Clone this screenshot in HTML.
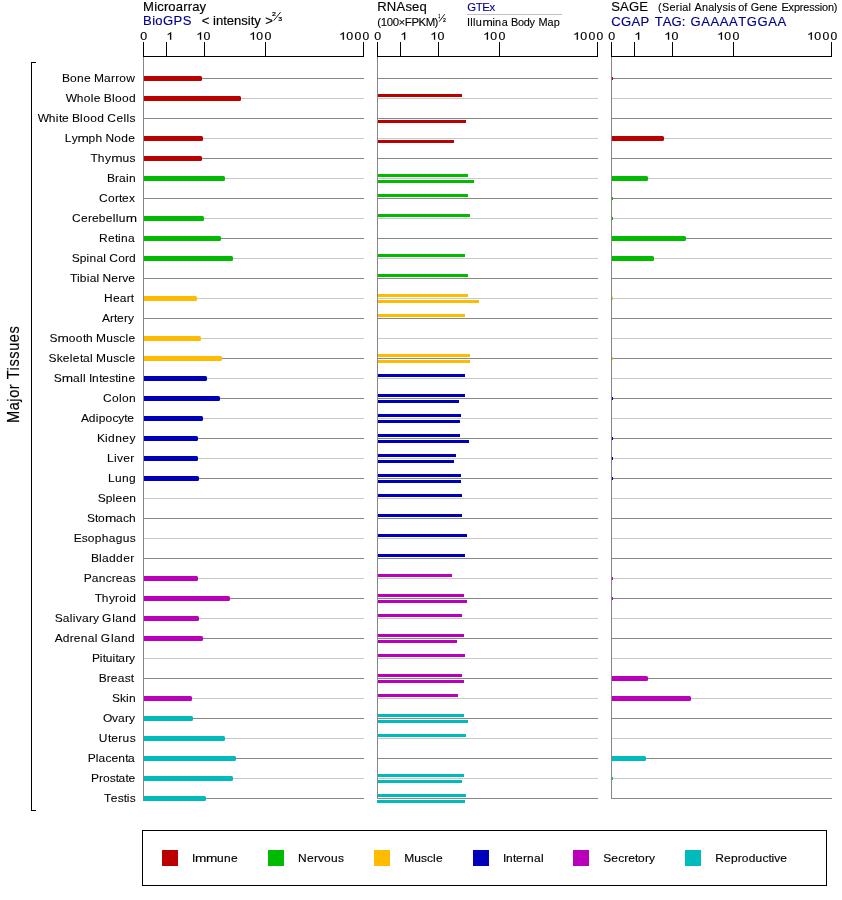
<!DOCTYPE html>
<html><head><meta charset="utf-8"><title>Expression chart</title>
<style>html,body{margin:0;padding:0;background:#fff;}svg{display:block;will-change:transform;font-family:"Liberation Sans",sans-serif;}text{font-family:"Liberation Sans",sans-serif;stroke-width:0.15px;paint-order:stroke;}text.tl{stroke-width:0.08px;}text.fr{stroke-width:0.25px;}text.sm{stroke-width:0.1px;}</style></head><body>
<svg width="842" height="900" viewBox="0 0 842 900">
<g shape-rendering="crispEdges">
<rect x="143" y="78" width="221" height="1" fill="#888888" />
<rect x="143" y="98" width="221" height="1" fill="#c8c8c8" />
<rect x="143" y="118" width="221" height="1" fill="#888888" />
<rect x="143" y="138" width="221" height="1" fill="#c8c8c8" />
<rect x="143" y="158" width="221" height="1" fill="#888888" />
<rect x="143" y="178" width="221" height="1" fill="#c8c8c8" />
<rect x="143" y="198" width="221" height="1" fill="#888888" />
<rect x="143" y="218" width="221" height="1" fill="#c8c8c8" />
<rect x="143" y="238" width="221" height="1" fill="#888888" />
<rect x="143" y="258" width="221" height="1" fill="#c8c8c8" />
<rect x="143" y="278" width="221" height="1" fill="#888888" />
<rect x="143" y="298" width="221" height="1" fill="#c8c8c8" />
<rect x="143" y="318" width="221" height="1" fill="#888888" />
<rect x="143" y="338" width="221" height="1" fill="#c8c8c8" />
<rect x="143" y="358" width="221" height="1" fill="#888888" />
<rect x="143" y="378" width="221" height="1" fill="#c8c8c8" />
<rect x="143" y="398" width="221" height="1" fill="#888888" />
<rect x="143" y="418" width="221" height="1" fill="#c8c8c8" />
<rect x="143" y="438" width="221" height="1" fill="#888888" />
<rect x="143" y="458" width="221" height="1" fill="#c8c8c8" />
<rect x="143" y="478" width="221" height="1" fill="#888888" />
<rect x="143" y="498" width="221" height="1" fill="#c8c8c8" />
<rect x="143" y="518" width="221" height="1" fill="#888888" />
<rect x="143" y="538" width="221" height="1" fill="#c8c8c8" />
<rect x="143" y="558" width="221" height="1" fill="#888888" />
<rect x="143" y="578" width="221" height="1" fill="#c8c8c8" />
<rect x="143" y="598" width="221" height="1" fill="#888888" />
<rect x="143" y="618" width="221" height="1" fill="#c8c8c8" />
<rect x="143" y="638" width="221" height="1" fill="#888888" />
<rect x="143" y="658" width="221" height="1" fill="#c8c8c8" />
<rect x="143" y="678" width="221" height="1" fill="#888888" />
<rect x="143" y="698" width="221" height="1" fill="#c8c8c8" />
<rect x="143" y="718" width="221" height="1" fill="#888888" />
<rect x="143" y="738" width="221" height="1" fill="#c8c8c8" />
<rect x="143" y="758" width="221" height="1" fill="#888888" />
<rect x="143" y="778" width="221" height="1" fill="#c8c8c8" />
<rect x="143" y="798" width="221" height="1" fill="#888888" />
<rect x="377" y="78" width="221" height="1" fill="#888888" />
<rect x="377" y="98" width="221" height="1" fill="#c8c8c8" />
<rect x="377" y="118" width="221" height="1" fill="#888888" />
<rect x="377" y="138" width="221" height="1" fill="#c8c8c8" />
<rect x="377" y="158" width="221" height="1" fill="#888888" />
<rect x="377" y="178" width="221" height="1" fill="#c8c8c8" />
<rect x="377" y="198" width="221" height="1" fill="#888888" />
<rect x="377" y="218" width="221" height="1" fill="#c8c8c8" />
<rect x="377" y="238" width="221" height="1" fill="#888888" />
<rect x="377" y="258" width="221" height="1" fill="#c8c8c8" />
<rect x="377" y="278" width="221" height="1" fill="#888888" />
<rect x="377" y="298" width="221" height="1" fill="#c8c8c8" />
<rect x="377" y="318" width="221" height="1" fill="#888888" />
<rect x="377" y="338" width="221" height="1" fill="#c8c8c8" />
<rect x="377" y="358" width="221" height="1" fill="#888888" />
<rect x="377" y="378" width="221" height="1" fill="#c8c8c8" />
<rect x="377" y="398" width="221" height="1" fill="#888888" />
<rect x="377" y="418" width="221" height="1" fill="#c8c8c8" />
<rect x="377" y="438" width="221" height="1" fill="#888888" />
<rect x="377" y="458" width="221" height="1" fill="#c8c8c8" />
<rect x="377" y="478" width="221" height="1" fill="#888888" />
<rect x="377" y="498" width="221" height="1" fill="#c8c8c8" />
<rect x="377" y="518" width="221" height="1" fill="#888888" />
<rect x="377" y="538" width="221" height="1" fill="#c8c8c8" />
<rect x="377" y="558" width="221" height="1" fill="#888888" />
<rect x="377" y="578" width="221" height="1" fill="#c8c8c8" />
<rect x="377" y="598" width="221" height="1" fill="#888888" />
<rect x="377" y="618" width="221" height="1" fill="#c8c8c8" />
<rect x="377" y="638" width="221" height="1" fill="#888888" />
<rect x="377" y="658" width="221" height="1" fill="#c8c8c8" />
<rect x="377" y="678" width="221" height="1" fill="#888888" />
<rect x="377" y="698" width="221" height="1" fill="#c8c8c8" />
<rect x="377" y="718" width="221" height="1" fill="#888888" />
<rect x="377" y="738" width="221" height="1" fill="#c8c8c8" />
<rect x="377" y="758" width="221" height="1" fill="#888888" />
<rect x="377" y="778" width="221" height="1" fill="#c8c8c8" />
<rect x="377" y="798" width="221" height="1" fill="#888888" />
<rect x="611" y="78" width="221" height="1" fill="#888888" />
<rect x="611" y="98" width="221" height="1" fill="#c8c8c8" />
<rect x="611" y="118" width="221" height="1" fill="#888888" />
<rect x="611" y="138" width="221" height="1" fill="#c8c8c8" />
<rect x="611" y="158" width="221" height="1" fill="#888888" />
<rect x="611" y="178" width="221" height="1" fill="#c8c8c8" />
<rect x="611" y="198" width="221" height="1" fill="#888888" />
<rect x="611" y="218" width="221" height="1" fill="#c8c8c8" />
<rect x="611" y="238" width="221" height="1" fill="#888888" />
<rect x="611" y="258" width="221" height="1" fill="#c8c8c8" />
<rect x="611" y="278" width="221" height="1" fill="#888888" />
<rect x="611" y="298" width="221" height="1" fill="#c8c8c8" />
<rect x="611" y="318" width="221" height="1" fill="#888888" />
<rect x="611" y="338" width="221" height="1" fill="#c8c8c8" />
<rect x="611" y="358" width="221" height="1" fill="#888888" />
<rect x="611" y="378" width="221" height="1" fill="#c8c8c8" />
<rect x="611" y="398" width="221" height="1" fill="#888888" />
<rect x="611" y="418" width="221" height="1" fill="#c8c8c8" />
<rect x="611" y="438" width="221" height="1" fill="#888888" />
<rect x="611" y="458" width="221" height="1" fill="#c8c8c8" />
<rect x="611" y="478" width="221" height="1" fill="#888888" />
<rect x="611" y="498" width="221" height="1" fill="#c8c8c8" />
<rect x="611" y="518" width="221" height="1" fill="#888888" />
<rect x="611" y="538" width="221" height="1" fill="#c8c8c8" />
<rect x="611" y="558" width="221" height="1" fill="#888888" />
<rect x="611" y="578" width="221" height="1" fill="#c8c8c8" />
<rect x="611" y="598" width="221" height="1" fill="#888888" />
<rect x="611" y="618" width="221" height="1" fill="#c8c8c8" />
<rect x="611" y="638" width="221" height="1" fill="#888888" />
<rect x="611" y="658" width="221" height="1" fill="#c8c8c8" />
<rect x="611" y="678" width="221" height="1" fill="#888888" />
<rect x="611" y="698" width="221" height="1" fill="#c8c8c8" />
<rect x="611" y="718" width="221" height="1" fill="#888888" />
<rect x="611" y="738" width="221" height="1" fill="#c8c8c8" />
<rect x="611" y="758" width="221" height="1" fill="#888888" />
<rect x="611" y="778" width="221" height="1" fill="#c8c8c8" />
<rect x="611" y="798" width="221" height="1" fill="#888888" />
</g>
<path d="M143 76H200.5Q202 76 202 77.5V79.5Q202 81 200.5 81H143Z" fill="#bb0000"/>
<path d="M143 96H239.5Q241 96 241 97.5V99.5Q241 101 239.5 101H143Z" fill="#bb0000"/>
<path d="M143 136H201.5Q203 136 203 137.5V139.5Q203 141 201.5 141H143Z" fill="#bb0000"/>
<path d="M143 156H200.5Q202 156 202 157.5V159.5Q202 161 200.5 161H143Z" fill="#bb0000"/>
<path d="M143 176H223.5Q225 176 225 177.5V179.5Q225 181 223.5 181H143Z" fill="#00bb00"/>
<path d="M143 216H202.5Q204 216 204 217.5V219.5Q204 221 202.5 221H143Z" fill="#00bb00"/>
<path d="M143 236H219.5Q221 236 221 237.5V239.5Q221 241 219.5 241H143Z" fill="#00bb00"/>
<path d="M143 256H231.5Q233 256 233 257.5V259.5Q233 261 231.5 261H143Z" fill="#00bb00"/>
<path d="M143 296H195.5Q197 296 197 297.5V299.5Q197 301 195.5 301H143Z" fill="#ffbb00"/>
<path d="M143 336H199.5Q201 336 201 337.5V339.5Q201 341 199.5 341H143Z" fill="#ffbb00"/>
<path d="M143 356H220.5Q222 356 222 357.5V359.5Q222 361 220.5 361H143Z" fill="#ffbb00"/>
<path d="M143 376H205.5Q207 376 207 377.5V379.5Q207 381 205.5 381H143Z" fill="#0000bb"/>
<path d="M143 396H218.5Q220 396 220 397.5V399.5Q220 401 218.5 401H143Z" fill="#0000bb"/>
<path d="M143 416H201.5Q203 416 203 417.5V419.5Q203 421 201.5 421H143Z" fill="#0000bb"/>
<path d="M143 436H196.5Q198 436 198 437.5V439.5Q198 441 196.5 441H143Z" fill="#0000bb"/>
<path d="M143 456H196.5Q198 456 198 457.5V459.5Q198 461 196.5 461H143Z" fill="#0000bb"/>
<path d="M143 476H197.5Q199 476 199 477.5V479.5Q199 481 197.5 481H143Z" fill="#0000bb"/>
<path d="M143 576H196.5Q198 576 198 577.5V579.5Q198 581 196.5 581H143Z" fill="#bb00bb"/>
<path d="M143 596H228.5Q230 596 230 597.5V599.5Q230 601 228.5 601H143Z" fill="#bb00bb"/>
<path d="M143 616H197.5Q199 616 199 617.5V619.5Q199 621 197.5 621H143Z" fill="#bb00bb"/>
<path d="M143 636H201.5Q203 636 203 637.5V639.5Q203 641 201.5 641H143Z" fill="#bb00bb"/>
<path d="M143 696H190.5Q192 696 192 697.5V699.5Q192 701 190.5 701H143Z" fill="#bb00bb"/>
<path d="M143 716H191.5Q193 716 193 717.5V719.5Q193 721 191.5 721H143Z" fill="#00bbbb"/>
<path d="M143 736H223.5Q225 736 225 737.5V739.5Q225 741 223.5 741H143Z" fill="#00bbbb"/>
<path d="M143 756H234.5Q236 756 236 757.5V759.5Q236 761 234.5 761H143Z" fill="#00bbbb"/>
<path d="M143 776H231.5Q233 776 233 777.5V779.5Q233 781 231.5 781H143Z" fill="#00bbbb"/>
<path d="M143 796H204.5Q206 796 206 797.5V799.5Q206 801 204.5 801H143Z" fill="#00bbbb"/>
<g shape-rendering="crispEdges">
<rect x="377" y="94" width="85" height="3" fill="#bb0000" />
<rect x="377" y="120" width="89" height="3" fill="#bb0000" />
<rect x="377" y="140" width="77" height="3" fill="#bb0000" />
<rect x="377" y="174" width="91" height="3" fill="#00bb00" />
<rect x="377" y="180" width="97" height="3" fill="#00bb00" />
<rect x="377" y="194" width="91" height="3" fill="#00bb00" />
<rect x="377" y="214" width="93" height="3" fill="#00bb00" />
<rect x="377" y="254" width="88" height="3" fill="#00bb00" />
<rect x="377" y="274" width="91" height="3" fill="#00bb00" />
<rect x="377" y="294" width="91" height="3" fill="#ffbb00" />
<rect x="377" y="300" width="102" height="3" fill="#ffbb00" />
<rect x="377" y="314" width="88" height="3" fill="#ffbb00" />
<rect x="377" y="354" width="93" height="3" fill="#ffbb00" />
<rect x="377" y="360" width="93" height="3" fill="#ffbb00" />
<rect x="377" y="374" width="88" height="3" fill="#0000bb" />
<rect x="377" y="394" width="88" height="3" fill="#0000bb" />
<rect x="377" y="400" width="82" height="3" fill="#0000bb" />
<rect x="377" y="414" width="84" height="3" fill="#0000bb" />
<rect x="377" y="420" width="83" height="3" fill="#0000bb" />
<rect x="377" y="434" width="83" height="3" fill="#0000bb" />
<rect x="377" y="440" width="92" height="3" fill="#0000bb" />
<rect x="377" y="454" width="79" height="3" fill="#0000bb" />
<rect x="377" y="460" width="77" height="3" fill="#0000bb" />
<rect x="377" y="474" width="84" height="3" fill="#0000bb" />
<rect x="377" y="480" width="84" height="3" fill="#0000bb" />
<rect x="377" y="494" width="85" height="3" fill="#0000bb" />
<rect x="377" y="514" width="85" height="3" fill="#0000bb" />
<rect x="377" y="534" width="90" height="3" fill="#0000bb" />
<rect x="377" y="554" width="88" height="3" fill="#0000bb" />
<rect x="377" y="574" width="75" height="3" fill="#bb00bb" />
<rect x="377" y="594" width="87" height="3" fill="#bb00bb" />
<rect x="377" y="600" width="90" height="3" fill="#bb00bb" />
<rect x="377" y="614" width="85" height="3" fill="#bb00bb" />
<rect x="377" y="634" width="87" height="3" fill="#bb00bb" />
<rect x="377" y="640" width="80" height="3" fill="#bb00bb" />
<rect x="377" y="654" width="88" height="3" fill="#bb00bb" />
<rect x="377" y="674" width="85" height="3" fill="#bb00bb" />
<rect x="377" y="680" width="87" height="3" fill="#bb00bb" />
<rect x="377" y="694" width="81" height="3" fill="#bb00bb" />
<rect x="377" y="714" width="87" height="3" fill="#00bbbb" />
<rect x="377" y="720" width="91" height="3" fill="#00bbbb" />
<rect x="377" y="734" width="89" height="3" fill="#00bbbb" />
<rect x="377" y="774" width="87" height="3" fill="#00bbbb" />
<rect x="377" y="780" width="85" height="3" fill="#00bbbb" />
<rect x="377" y="794" width="89" height="3" fill="#00bbbb" />
<rect x="377" y="800" width="88" height="3" fill="#00bbbb" />
</g>
<path d="M611 136H662.5Q664 136 664 137.5V139.5Q664 141 662.5 141H611Z" fill="#bb0000"/>
<path d="M611 176H646.5Q648 176 648 177.5V179.5Q648 181 646.5 181H611Z" fill="#00bb00"/>
<path d="M611 236H684.5Q686 236 686 237.5V239.5Q686 241 684.5 241H611Z" fill="#00bb00"/>
<path d="M611 256H652.5Q654 256 654 257.5V259.5Q654 261 652.5 261H611Z" fill="#00bb00"/>
<path d="M611 676H646.5Q648 676 648 677.5V679.5Q648 681 646.5 681H611Z" fill="#bb00bb"/>
<path d="M611 696H689.5Q691 696 691 697.5V699.5Q691 701 689.5 701H611Z" fill="#bb00bb"/>
<path d="M611 756H644.5Q646 756 646 757.5V759.5Q646 761 644.5 761H611Z" fill="#00bbbb"/>
<rect x="612" y="77" width="1" height="3" fill="#bb0000"/>
<rect x="612" y="197" width="1" height="3" fill="#00bb00"/>
<rect x="612" y="217" width="1" height="3" fill="#00bb00"/>
<rect x="612" y="297" width="1" height="3" fill="#ffbb00"/>
<rect x="612" y="357" width="1" height="3" fill="#ffbb00"/>
<rect x="612" y="397" width="1" height="3" fill="#0000bb"/>
<rect x="612" y="437" width="1" height="3" fill="#0000bb"/>
<rect x="612" y="457" width="1" height="3" fill="#0000bb"/>
<rect x="612" y="477" width="1" height="3" fill="#0000bb"/>
<rect x="612" y="577" width="1" height="3" fill="#bb00bb"/>
<rect x="612" y="597" width="1" height="3" fill="#bb00bb"/>
<rect x="612" y="777" width="1" height="3" fill="#00bbbb"/>
<g shape-rendering="crispEdges">
<rect x="143" y="57" width="1" height="742" fill="#868686" />
<rect x="143" y="56" width="221" height="1" fill="#000" />
<rect x="143" y="42" width="1" height="15" fill="#000" />
<rect x="166" y="42" width="1" height="15" fill="#000" />
<rect x="204" y="42" width="1" height="15" fill="#000" />
<rect x="265" y="42" width="1" height="15" fill="#000" />
<rect x="363" y="42" width="1" height="15" fill="#000" />
<rect x="377" y="57" width="1" height="742" fill="#868686" />
<rect x="377" y="56" width="221" height="1" fill="#000" />
<rect x="377" y="42" width="1" height="15" fill="#000" />
<rect x="400" y="42" width="1" height="15" fill="#000" />
<rect x="438" y="42" width="1" height="15" fill="#000" />
<rect x="499" y="42" width="1" height="15" fill="#000" />
<rect x="597" y="42" width="1" height="15" fill="#000" />
<rect x="611" y="57" width="1" height="742" fill="#868686" />
<rect x="611" y="56" width="221" height="1" fill="#000" />
<rect x="611" y="42" width="1" height="15" fill="#000" />
<rect x="634" y="42" width="1" height="15" fill="#000" />
<rect x="672" y="42" width="1" height="15" fill="#000" />
<rect x="733" y="42" width="1" height="15" fill="#000" />
<rect x="831" y="42" width="1" height="15" fill="#000" />
<rect x="31" y="62" width="1" height="749" fill="#000" />
<rect x="31" y="62" width="5" height="1" fill="#000" />
<rect x="31" y="810" width="5" height="1" fill="#000" />
<rect x="142" y="830" width="685" height="1" fill="#000" />
<rect x="142" y="885" width="685" height="1" fill="#000" />
<rect x="142" y="830" width="1" height="56" fill="#000" />
<rect x="826" y="830" width="1" height="56" fill="#000" />
<rect x="162" y="850" width="16" height="16" fill="#bb0000" />
<rect x="268" y="850" width="16" height="16" fill="#00bb00" />
<rect x="374" y="850" width="16" height="16" fill="#ffbb00" />
<rect x="473" y="850" width="16" height="16" fill="#0000bb" />
<rect x="573" y="850" width="16" height="16" fill="#bb00bb" />
<rect x="685" y="850" width="16" height="16" fill="#00bbbb" />
<rect x="467" y="14" width="95" height="1" fill="#c0c0c0" />
</g>
<text transform="translate(140.25,39.7) scale(1.1840,1)" font-size="10.5" fill="#000" stroke="#000">0</text>
<path transform="translate(166.31,39.7) scale(0.006409,-0.005127)" d="M763 0H583V1147Q430 1010 223 930V1104Q520 1250 644 1472H763Z" fill="#000" stroke="#000" stroke-width="30"/>
<path transform="translate(196.21,39.7) scale(0.006409,-0.005127)" d="M763 0H583V1147Q430 1010 223 930V1104Q520 1250 644 1472H763Z" fill="#000" stroke="#000" stroke-width="30"/>
<text transform="translate(203.45,39.7) scale(1.1840,1)" font-size="10.5" fill="#000" stroke="#000">0</text>
<path transform="translate(249.11,39.7) scale(0.006409,-0.005127)" d="M763 0H583V1147Q430 1010 223 930V1104Q520 1250 644 1472H763Z" fill="#000" stroke="#000" stroke-width="30"/>
<text transform="translate(256.35,39.7) scale(1.1669,1)" font-size="10.5" fill="#000" stroke="#000">0</text>
<text transform="translate(264.45,39.7) scale(1.1840,1)" font-size="10.5" fill="#000" stroke="#000">0</text>
<path transform="translate(339.01,39.7) scale(0.006409,-0.005127)" d="M763 0H583V1147Q430 1010 223 930V1104Q520 1250 644 1472H763Z" fill="#000" stroke="#000" stroke-width="30"/>
<text transform="translate(346.35,39.7) scale(1.1840,1)" font-size="10.5" fill="#000" stroke="#000">0</text>
<text transform="translate(354.55,39.7) scale(1.1669,1)" font-size="10.5" fill="#000" stroke="#000">0</text>
<text transform="translate(362.55,39.7) scale(1.1497,1)" font-size="10.5" fill="#000" stroke="#000">0</text>
<text transform="translate(374.25,39.7) scale(1.1840,1)" font-size="10.5" fill="#000" stroke="#000">0</text>
<path transform="translate(400.31,39.7) scale(0.006409,-0.005127)" d="M763 0H583V1147Q430 1010 223 930V1104Q520 1250 644 1472H763Z" fill="#000" stroke="#000" stroke-width="30"/>
<path transform="translate(430.21,39.7) scale(0.006409,-0.005127)" d="M763 0H583V1147Q430 1010 223 930V1104Q520 1250 644 1472H763Z" fill="#000" stroke="#000" stroke-width="30"/>
<text transform="translate(437.45,39.7) scale(1.1840,1)" font-size="10.5" fill="#000" stroke="#000">0</text>
<path transform="translate(483.11,39.7) scale(0.006409,-0.005127)" d="M763 0H583V1147Q430 1010 223 930V1104Q520 1250 644 1472H763Z" fill="#000" stroke="#000" stroke-width="30"/>
<text transform="translate(490.35,39.7) scale(1.1669,1)" font-size="10.5" fill="#000" stroke="#000">0</text>
<text transform="translate(498.45,39.7) scale(1.1840,1)" font-size="10.5" fill="#000" stroke="#000">0</text>
<path transform="translate(573.01,39.7) scale(0.006409,-0.005127)" d="M763 0H583V1147Q430 1010 223 930V1104Q520 1250 644 1472H763Z" fill="#000" stroke="#000" stroke-width="30"/>
<text transform="translate(580.35,39.7) scale(1.1840,1)" font-size="10.5" fill="#000" stroke="#000">0</text>
<text transform="translate(588.55,39.7) scale(1.1669,1)" font-size="10.5" fill="#000" stroke="#000">0</text>
<text transform="translate(596.55,39.7) scale(1.1497,1)" font-size="10.5" fill="#000" stroke="#000">0</text>
<text transform="translate(608.25,39.7) scale(1.1840,1)" font-size="10.5" fill="#000" stroke="#000">0</text>
<path transform="translate(634.31,39.7) scale(0.006409,-0.005127)" d="M763 0H583V1147Q430 1010 223 930V1104Q520 1250 644 1472H763Z" fill="#000" stroke="#000" stroke-width="30"/>
<path transform="translate(664.21,39.7) scale(0.006409,-0.005127)" d="M763 0H583V1147Q430 1010 223 930V1104Q520 1250 644 1472H763Z" fill="#000" stroke="#000" stroke-width="30"/>
<text transform="translate(671.45,39.7) scale(1.1840,1)" font-size="10.5" fill="#000" stroke="#000">0</text>
<path transform="translate(717.11,39.7) scale(0.006409,-0.005127)" d="M763 0H583V1147Q430 1010 223 930V1104Q520 1250 644 1472H763Z" fill="#000" stroke="#000" stroke-width="30"/>
<text transform="translate(724.35,39.7) scale(1.1669,1)" font-size="10.5" fill="#000" stroke="#000">0</text>
<text transform="translate(732.45,39.7) scale(1.1840,1)" font-size="10.5" fill="#000" stroke="#000">0</text>
<path transform="translate(807.01,39.7) scale(0.006409,-0.005127)" d="M763 0H583V1147Q430 1010 223 930V1104Q520 1250 644 1472H763Z" fill="#000" stroke="#000" stroke-width="30"/>
<text transform="translate(814.35,39.7) scale(1.1840,1)" font-size="10.5" fill="#000" stroke="#000">0</text>
<text transform="translate(822.55,39.7) scale(1.1669,1)" font-size="10.5" fill="#000" stroke="#000">0</text>
<text transform="translate(830.55,39.7) scale(1.1497,1)" font-size="10.5" fill="#000" stroke="#000">0</text>
<text class="tl" transform="translate(61.90,81.7) scale(1.0900,1)" x="0.00 7.37 13.83 20.28 26.73 29.50 38.72 45.17 48.86 52.54 59.00" font-size="11" fill="#000" stroke="#000">Bone Marrow</text>
<text class="tl" transform="translate(65.70,101.7) scale(1.0900,1)" x="0.00 10.13 16.58 23.03 25.79 32.24 35.00 42.37 45.13 51.58 58.02" font-size="11" fill="#000" stroke="#000">Whole Blood</text>
<text class="tl" transform="translate(37.70,121.7) scale(1.0900,1)" x="0.00 10.19 16.68 19.46 22.24 28.72 31.50 38.92 41.69 48.18 54.67 61.15 63.93 72.27 78.76 81.54 84.32" font-size="11" fill="#000" stroke="#000">White Blood Cells</text>
<text class="tl" transform="translate(64.70,141.7) scale(1.0900,1)" x="0.00 6.38" font-size="11" fill="#000" stroke="#000">Ly</text>
<text class="tl" transform="translate(77.61,141.7) scale(1.2426,1)" x="0.00" font-size="11" fill="#000" stroke="#000">m</text>
<text class="tl" transform="translate(88.53,141.7) scale(1.0900,1)" x="0.00 6.38 12.75 15.49 23.68 30.06 36.44" font-size="11" fill="#000" stroke="#000">ph Node</text>
<text class="tl" transform="translate(90.60,161.7) scale(1.0900,1)" x="0.00 6.59 13.18" font-size="11" fill="#000" stroke="#000">Thy</text>
<text class="tl" transform="translate(111.13,161.7) scale(1.2426,1)" x="0.00" font-size="11" fill="#000" stroke="#000">m</text>
<text class="tl" transform="translate(122.42,161.7) scale(1.0900,1)" x="0.00 6.59" font-size="11" fill="#000" stroke="#000">us</text>
<text class="tl" transform="translate(107.00,181.7) scale(1.0900,1)" x="0.00 7.35 11.03 17.47 20.23" font-size="11" fill="#000" stroke="#000">Brain</text>
<text class="tl" transform="translate(99.10,201.7) scale(1.0900,1)" x="0.00 8.26 14.68 18.35 21.10 27.53" font-size="11" fill="#000" stroke="#000">Cortex</text>
<text class="tl" transform="translate(72.00,221.7) scale(1.0900,1)" x="0.00 8.21 14.60 18.25 24.64 31.03 37.42 40.16 42.89" font-size="11" fill="#000" stroke="#000">Cerebellu</text>
<text class="tl" transform="translate(125.72,221.7) scale(1.2426,1)" x="0.00" font-size="11" fill="#000" stroke="#000">m</text>
<text class="tl" transform="translate(99.10,241.7) scale(1.0900,1)" x="0.00 8.26 14.69 17.44 20.19 26.62" font-size="11" fill="#000" stroke="#000">Retina</text>
<text class="tl" transform="translate(71.80,261.7) scale(1.0900,1)" x="0.00 7.24 13.58 16.30 22.64 28.98 31.69 34.41 42.56 48.90 52.52" font-size="11" fill="#000" stroke="#000">Spinal Cord</text>
<text class="tl" transform="translate(70.00,281.7) scale(1.0900,1)" x="0.00 6.33 9.04 15.37 18.08 24.41 27.12 29.84 37.97 44.30 47.92 53.34" font-size="11" fill="#000" stroke="#000">Tibial Nerve</text>
<text class="tl" transform="translate(103.90,301.7) scale(1.0900,1)" x="0.00 8.25 14.66 21.08 24.75" font-size="11" fill="#000" stroke="#000">Heart</text>
<text class="tl" transform="translate(101.90,321.7) scale(1.0900,1)" x="0.00 7.34 11.01 13.76 20.19 23.86" font-size="11" fill="#000" stroke="#000">Artery</text>
<text class="tl" transform="translate(49.50,341.7) scale(1.0900,1)" x="0.00" font-size="11" fill="#000" stroke="#000">S</text>
<text class="tl" transform="translate(57.60,341.7) scale(1.2426,1)" x="0.00" font-size="11" fill="#000" stroke="#000">m</text>
<text class="tl" transform="translate(68.73,341.7) scale(1.0900,1)" x="0.00 6.50 13.00 15.79 22.29 25.07 34.36 40.86 46.43 52.00 54.78" font-size="11" fill="#000" stroke="#000">ooth Muscle</text>
<text class="tl" transform="translate(48.60,361.7) scale(1.0900,1)" x="0.00 7.42 12.98 19.47 22.25 28.74 31.53 38.02 40.80 43.58 52.85 59.34 64.91 70.47 73.25" font-size="11" fill="#000" stroke="#000">Skeletal Muscle</text>
<text class="tl" transform="translate(53.70,381.7) scale(1.0900,1)" x="0.00" font-size="11" fill="#000" stroke="#000">S</text>
<text class="tl" transform="translate(61.78,381.7) scale(1.2426,1)" x="0.00" font-size="11" fill="#000" stroke="#000">m</text>
<text class="tl" transform="translate(72.89,381.7) scale(1.0900,1)" x="0.00 6.49 9.27 12.05 14.83 17.61 24.09 26.87 33.36 38.92 41.70 44.48 50.97" font-size="11" fill="#000" stroke="#000">all Intestine</text>
<text class="tl" transform="translate(102.90,401.7) scale(1.0900,1)" x="0.00 8.30 14.76 17.53 23.99" font-size="11" fill="#000" stroke="#000">Colon</text>
<text class="tl" transform="translate(80.90,421.7) scale(1.0900,1)" x="0.00 7.24 13.57 16.28 22.62 28.95 34.38 39.80 42.52" font-size="11" fill="#000" stroke="#000">Adipocyte</text>
<text class="tl" transform="translate(96.90,441.7) scale(1.0900,1)" x="0.00 7.48 10.28 16.83 23.37 29.91" font-size="11" fill="#000" stroke="#000">Kidney</text>
<text class="tl" transform="translate(107.00,461.7) scale(1.0900,1)" x="0.00 6.48 9.26 14.82 21.30" font-size="11" fill="#000" stroke="#000">Liver</text>
<text class="tl" transform="translate(107.90,481.7) scale(1.0900,1)" x="0.00 6.47 12.93 19.40" font-size="11" fill="#000" stroke="#000">Lung</text>
<text class="tl" transform="translate(97.80,501.7) scale(1.0900,1)" x="0.00 7.24 13.57 16.28 22.61 28.94" font-size="11" fill="#000" stroke="#000">Spleen</text>
<text class="tl" transform="translate(86.90,521.7) scale(1.0900,1)" x="0.00 7.36 10.13" font-size="11" fill="#000" stroke="#000">Sto</text>
<text class="tl" transform="translate(104.96,521.7) scale(1.2426,1)" x="0.00" font-size="11" fill="#000" stroke="#000">m</text>
<text class="tl" transform="translate(116.00,521.7) scale(1.0900,1)" x="0.00 6.44 11.97" font-size="11" fill="#000" stroke="#000">ach</text>
<text class="tl" transform="translate(73.80,541.7) scale(1.0900,1)" x="0.00 7.33 12.82 19.23 25.64 32.06 38.47 44.88 51.29" font-size="11" fill="#000" stroke="#000">Esophagus</text>
<text class="tl" transform="translate(90.90,561.7) scale(1.0900,1)" x="0.00 7.40 10.17 16.65 23.12 29.59 36.07" font-size="11" fill="#000" stroke="#000">Bladder</text>
<text class="tl" transform="translate(83.80,581.7) scale(1.0900,1)" x="0.00 7.32 13.73 20.14 25.64 29.30 35.71 42.11" font-size="11" fill="#000" stroke="#000">Pancreas</text>
<text class="tl" transform="translate(94.70,601.7) scale(1.0900,1)" x="0.00 6.54 13.09 18.70 22.44 28.98 31.78" font-size="11" fill="#000" stroke="#000">Thyroid</text>
<text class="tl" transform="translate(54.70,621.7) scale(1.0900,1)" x="0.00 7.40 13.88 16.66 19.43 24.99 31.46 35.17 40.72 43.50 52.75 55.53 62.00 68.48" font-size="11" fill="#000" stroke="#000">Salivary Gland</text>
<text class="tl" transform="translate(54.70,641.7) scale(1.0900,1)" x="0.00 7.36 13.81 17.49 23.93 30.38 36.82 39.58 42.34 51.55 54.31 60.75 67.20" font-size="11" fill="#000" stroke="#000">Adrenal Gland</text>
<text class="tl" transform="translate(92.00,661.7) scale(1.0900,1)" x="0.00 7.17 9.85 12.54 18.81 21.50 24.19 30.46 34.04" font-size="11" fill="#000" stroke="#000">Pituitary</text>
<text class="tl" transform="translate(98.80,681.7) scale(1.0900,1)" x="0.00 7.36 11.03 17.47 23.91 29.42" font-size="11" fill="#000" stroke="#000">Breast</text>
<text class="tl" transform="translate(111.90,701.7) scale(1.0900,1)" x="0.00 7.40 12.95 15.73" font-size="11" fill="#000" stroke="#000">Skin</text>
<text class="tl" transform="translate(102.90,721.7) scale(1.0900,1)" x="0.00 8.32 13.87 20.34 24.04" font-size="11" fill="#000" stroke="#000">Ovary</text>
<text class="tl" transform="translate(98.80,741.7) scale(1.0900,1)" x="0.00 8.51 11.34 17.96 21.74 28.35" font-size="11" fill="#000" stroke="#000">Uterus</text>
<text class="tl" transform="translate(87.80,761.7) scale(1.0900,1)" x="0.00 7.22 9.92 16.24 21.65 27.97 34.28 36.99" font-size="11" fill="#000" stroke="#000">Placenta</text>
<text class="tl" transform="translate(91.10,781.7) scale(1.0900,1)" x="0.00 7.21 10.82 17.13 22.54 25.25 31.56 34.26" font-size="11" fill="#000" stroke="#000">Prostate</text>
<text class="tl" transform="translate(103.90,801.7) scale(1.0900,1)" x="0.00 6.37 12.75 18.21 20.94 23.67" font-size="11" fill="#000" stroke="#000">Testis</text>
<text transform="translate(143.10,10.6) scale(1.0900,1)" x="0.00 10.22 12.94 19.08 23.16 29.98 36.81 40.89 44.98 51.80" font-size="12" fill="#000" stroke="#000">Microarray</text>
<text transform="translate(143.10,25.3) scale(1.0900,1)" x="0.00 8.40 11.20 18.20 27.99 36.39" font-size="12" fill="#000088" stroke="#000088">BioGPS</text>
<text transform="translate(201.70,25.1) scale(1.0900,1)" x="0.00" font-size="12" fill="#000" stroke="#000">&lt;</text>
<text transform="translate(213.00,25.1) scale(1.0900,1)" x="0.00 2.65 9.30 12.62 19.26 25.91 31.88 34.53 37.85" font-size="12" fill="#000" stroke="#000">intensity</text>
<text transform="translate(265.30,25.1) scale(1.0900,1)" x="0.00" font-size="12" fill="#000" stroke="#000">&gt;</text>
<text class="fr" transform="translate(272.00,15.7) scale(1.1712,1)" font-size="6.0" fill="#000" stroke="#000">2</text>
<text class="fr" transform="translate(278.30,20.8) scale(1.1411,1)" font-size="6.0" fill="#000" stroke="#000">3</text>
<path d="M273.7 20.6L280.6 12.1" stroke="#000" stroke-width="0.9" fill="none"/>
<text transform="translate(377.20,10.6) scale(1.0900,1)" x="0.00 8.86 17.71 25.89 32.02 38.84" font-size="12" fill="#000" stroke="#000">RNAseq</text>
<text class="sm" transform="translate(377.20,25.7) scale(1.0900,1)" x="0.00 3.27 8.73 14.19 19.65 25.38 31.38 37.93 44.48 52.66" font-size="10.5" fill="#000" stroke="#000">(100×FPKM)</text>
<text class="fr" transform="translate(438.40,17.5) scale(0.5544,1)" font-size="5.2" fill="#000" stroke="#000">1</text>
<text class="fr" transform="translate(443.10,22.0) scale(1.0049,1)" font-size="5.2" fill="#000" stroke="#000">2</text>
<path d="M439.1 21.8L444.7 14.2" stroke="#000" stroke-width="0.9" fill="none"/>
<text class="sm" transform="translate(467.30,11.3) scale(1.0900,1)" x="0.00 7.73 13.81 20.44" font-size="10.5" fill="#000088" stroke="#000088">GTEx</text>
<text class="sm" transform="translate(467.00,25.6) scale(1.0900,1)" x="0.00 3.07 5.53 7.98" font-size="10" fill="#000" stroke="#000">Illu</text>
<text class="sm" transform="translate(482.41,25.6) scale(1.2426,1)" x="0.00" font-size="10" fill="#000" stroke="#000">m</text>
<text class="sm" transform="translate(492.44,25.6) scale(1.0900,1)" x="0.00 2.46 8.61" font-size="10" fill="#000" stroke="#000">ina</text>
<text class="sm" transform="translate(511.10,25.6) scale(1.0900,1)" x="0.00 6.31 11.57 16.83" font-size="10" fill="#000" stroke="#000">Body</text>
<text class="sm" transform="translate(538.60,25.6) scale(1.0900,1)" x="0.00 8.28 13.81" font-size="10" fill="#000" stroke="#000">Map</text>
<text transform="translate(611.20,10.6) scale(1.0900,1)" x="0.00 8.13 16.27 25.75" font-size="12" fill="#000" stroke="#000">SAGE</text>
<text class="sm" transform="translate(658.10,10.6) scale(1.0900,1)" x="0.00 3.49 10.48 16.31 19.80 22.13 27.96" font-size="10" fill="#000" stroke="#000">(Serial</text>
<text class="sm" transform="translate(694.60,10.6) scale(1.0900,1)" x="0.00 6.81 12.48 18.15 20.42 25.52 30.62 32.89" font-size="10" fill="#000" stroke="#000">Analysis</text>
<text class="sm" transform="translate(738.30,10.6) scale(1.0900,1)" x="0.00 5.37" font-size="10" fill="#000" stroke="#000">of</text>
<text class="sm" transform="translate(750.80,10.6) scale(1.0900,1)" x="0.00 7.76 13.31 18.85" font-size="10" fill="#000" stroke="#000">Gene</text>
<text class="sm" transform="translate(781.60,10.6) scale(1.0900,1)" x="0.00 6.45 11.29 16.67 19.90 25.28 30.12 34.95 37.10 42.49 47.87" font-size="10" fill="#000" stroke="#000">Expression)</text>
<text transform="translate(611.20,25.6) scale(1.0900,1)" x="0.00 8.95 18.59 26.85" font-size="12" fill="#000088" stroke="#000088">CGAP</text>
<text transform="translate(654.80,25.6) scale(1.0900,1)" x="0.00 7.35 15.38 24.74" font-size="12" fill="#000088" stroke="#000088">TAG:</text>
<text transform="translate(690.50,25.6) scale(1.0900,1)" x="0.00 9.89 18.38 26.86 35.35 43.83 51.61 61.50 71.39 79.88" font-size="12" fill="#000088" stroke="#000088">GAAAATGGAA</text>
<text transform="translate(192.00,862.0) scale(1.0900,1)" x="0.00" font-size="11" fill="#000" stroke="#000">I</text>
<text transform="translate(195.00,862.0) scale(1.2426,1)" x="0.00 8.86" font-size="11" fill="#000" stroke="#000">mm</text>
<text transform="translate(217.03,862.0) scale(1.0900,1)" x="0.00 6.43 12.86" font-size="11" fill="#000" stroke="#000">une</text>
<text transform="translate(298.00,862.0) scale(1.0900,1)" x="0.00 8.28 14.72 18.40 23.92 30.35 36.79" font-size="11" fill="#000" stroke="#000">Nervous</text>
<text transform="translate(404.30,862.0) scale(1.0900,1)" x="0.00 9.07 15.42 20.87 26.31 29.03" font-size="11" fill="#000" stroke="#000">Muscle</text>
<text transform="translate(503.10,862.0) scale(1.0900,1)" x="0.00 2.74 9.13 11.87 18.27 21.92 28.31 34.71" font-size="11" fill="#000" stroke="#000">Internal</text>
<text transform="translate(603.30,862.0) scale(1.0900,1)" x="0.00 7.29 13.67 19.14 22.79 29.17 31.90 38.29 41.93" font-size="11" fill="#000" stroke="#000">Secretory</text>
<text transform="translate(715.20,862.0) scale(1.0900,1)" x="0.00 8.14 14.47 20.80 24.41 30.74 37.07 43.40 48.82 51.54 54.25 59.67" font-size="11" fill="#000" stroke="#000">Reproductive</text>
<text transform="translate(19.0,423.1) rotate(-90) scale(1,1.19)" font-size="14.6" letter-spacing="0.58" fill="#000" stroke="#000">Major Tissues</text>
</svg></body></html>
